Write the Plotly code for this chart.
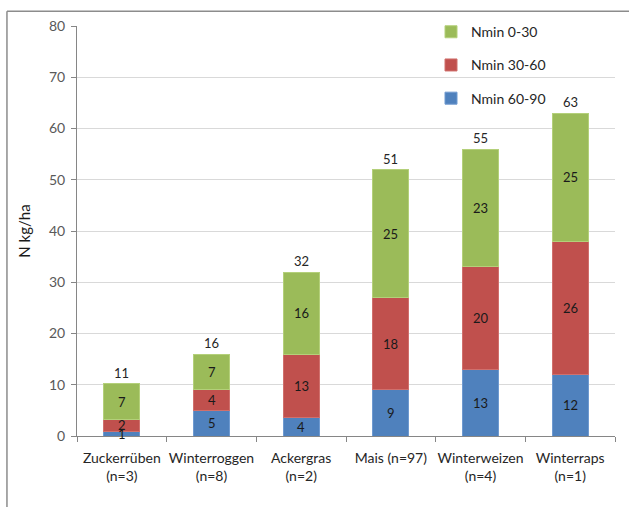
import plotly.graph_objects as go

categories = ["Zuckerrüben<br>(n=3)", "Winterroggen<br>(n=8)", "Ackergras<br>(n=2)",
              "Mais (n=97)", "Winterweizen<br>(n=4)", "Winterraps<br>(n=1)"]
nmin_60_90 = [0.9, 5.0, 3.6, 9.0, 13.0, 12.0]
nmin_30_60 = [2.35, 4.0, 12.4, 18.0, 20.0, 26.0]
nmin_0_30 = [6.9, 7.0, 16.0, 25.0, 23.0, 25.0]
labels_60_90 = ["1", "5", "4", "9", "13", "12"]
labels_30_60 = ["2", "4", "13", "18", "20", "26"]
labels_0_30 = ["7", "7", "16", "25", "23", "25"]
total_labels = ["11", "16", "32", "51", "55", "63"]
y_ticks = [0, 10, 20, 30, 40, 50, 60, 70, 80]

FONT = "Lato"
series = [
    ("Nmin 60-90", nmin_60_90, labels_60_90, "#4F81BD", "#6f9ad0", 3),
    ("Nmin 30-60", nmin_30_60, labels_30_60, "#C0504D", "#d0706d", 2),
    ("Nmin 0-30", nmin_0_30, labels_0_30, "#9BBB59", "#b4d07a", 1),
]

fig = go.Figure()
base = [0.0] * len(categories)
for name, vals, labs, col, lcol, rank in series:
    fig.add_trace(go.Bar(
        x=categories, y=vals, name=name,
        marker=dict(color=col, line=dict(color=lcol, width=1)),
        legendgroup=name, legendrank=rank, hoverinfo="skip",
    ))
    # segment value labels drawn on top of all bars
    for i, (cat, v, lab) in enumerate(zip(categories, vals, labs)):
        fig.add_annotation(x=cat, y=base[i] + v / 2, text=lab, showarrow=False,
                           yanchor="middle",
                           font=dict(family=FONT, size=13, color="#1a1a1a"))
        base[i] += v

for cat, tot, lab in zip(categories, base, total_labels):
    fig.add_annotation(x=cat, y=tot, text=lab, showarrow=False, yanchor="bottom",
                       yshift=1, font=dict(family=FONT, size=13, color="#262626"))

# outer frame (top and left edges)
fig.add_shape(type="line", xref="paper", yref="paper", x0=-0.1302, x1=1.03,
              y0=1.0359, y1=1.0359, line=dict(color="#8c8c8c", width=1.5))
fig.add_shape(type="line", xref="paper", yref="paper", x0=-0.1302, x1=-0.1302,
              y0=1.0359, y1=-0.18, line=dict(color="#8c8c8c", width=1.5))

fig.update_layout(
    width=629, height=507,
    margin=dict(l=77, r=14, t=26, b=71),
    paper_bgcolor="white", plot_bgcolor="white",
    barmode="stack", bargap=0.6,
    font=dict(family=FONT, size=14, color="#262626"),
    showlegend=True,
    legend=dict(x=0.658, y=1.024, xanchor="left", yanchor="top",
                traceorder="grouped", tracegroupgap=12,
                font=dict(family=FONT, size=14, color="#262626"),
                bgcolor="rgba(0,0,0,0)"),
    xaxis=dict(showline=True, linecolor="#868686", linewidth=1,
               ticks="outside", ticklen=5, tickcolor="#868686", tickson="boundaries",
               ticklabelstandoff=9, tickangle=0,
               tickfont=dict(family=FONT, size=14, color="#262626"),
               showgrid=False, fixedrange=True),
    yaxis=dict(range=[0, 80], tickvals=y_ticks, showline=True, linecolor="#868686",
               linewidth=1, ticks="outside", ticklen=5, tickcolor="#868686",
               ticklabelstandoff=3,
               showgrid=True, gridcolor="#d9d9d9", gridwidth=1, zeroline=False,
               tickfont=dict(family=FONT, size=14, color="#595959"),
               title=dict(text="N kg/ha", font=dict(family=FONT, size=15, color="#1a1a1a"),
                          standoff=14)),
)

fig.write_html("out.html")
